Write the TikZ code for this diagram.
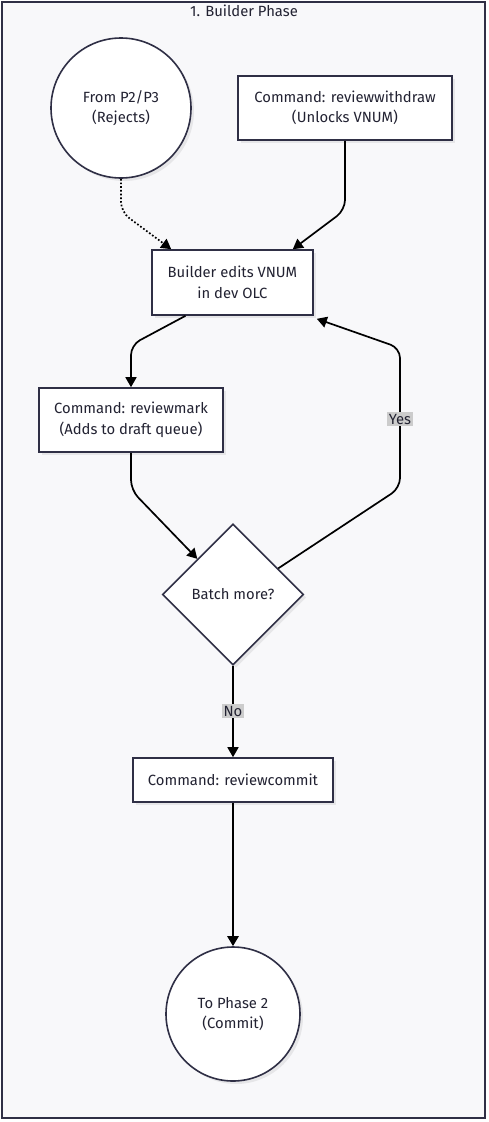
\documentclass[tikz,border=0pt]{standalone}
\usepackage{fontspec}
\setmainfont{Fira Sans}
\usetikzlibrary{arrows.meta,shapes.geometric,shadows,calc}
\definecolor{framefill}{HTML}{F8F8FA}
\definecolor{edgecol}{HTML}{2F2F45}
\definecolor{txt}{HTML}{222232}
\begin{document}
\begin{tikzpicture}[x=1pt,y=-1pt,
  every node/.style={font=\fontsize{14.8}{20.5}\selectfont, text=txt},
  shade/.style={drop shadow={shadow xshift=3pt,shadow yshift=-3pt,fill=black,opacity=0.07}},
  procbox/.style={draw=edgecol, line width=1.6pt, fill=white, shade, align=center, inner sep=0pt},
  termcirc/.style={circle, draw=edgecol, line width=1.6pt, fill=white, shade, align=center, inner sep=0pt},
  decis/.style={diamond, aspect=1, draw=edgecol, line width=1.6pt, fill=white, shade, inner sep=0pt, minimum width=141pt, minimum height=141pt},
  conn/.style={line width=1.7pt, draw=black, rounded corners=10pt, -{Triangle[length=10pt,width=11pt]}},
  elabel/.style={fill=black!20, inner sep=1.5pt, text=txt}
]
\useasboundingbox (0,0) rectangle (488,1122);
\draw[draw=edgecol, line width=1.6pt, fill=framefill] (2,2) rectangle (485,1118);
\node (title) at (244,11) {1. Builder Phase};

\node[termcirc, minimum size=140pt] (from) at (121,108) {From P2/P3\\(Rejects)};
\node[procbox, minimum width=214pt, minimum height=64pt] (withdraw) at (345,108) {Command: reviewwithdraw\\(Unlocks VNUM)};
\node[procbox, minimum width=161pt, minimum height=65pt] (builder) at (232.5,282.5) {Builder edits VNUM\\in dev OLC};
\node[procbox, minimum width=184pt, minimum height=64pt] (mark) at (131,420) {Command: reviewmark\\(Adds to draft queue)};
\node[decis] (batch) at (233,594.5) {Batch more?};
\node[procbox, minimum width=200pt, minimum height=44pt] (commit) at (233,780) {Command: reviewcommit};
\node[termcirc, minimum size=134pt] (to) at (233,1014) {To Phase 2\\(Commit)};

\draw[conn, dotted] (from.south) -- (121,212) -- ($(builder.north west)+(20,0)$);
\draw[conn] (withdraw.south) -- (345,210) -- ($(builder.north east)+(-21,0)$);
\draw[conn] ($(builder.south)+(-47,0)$) -- (131,345) -- (mark.north);
\draw[conn] (mark.south) -- (131,490) -- (batch.135);
\draw[conn] (batch.30) -- (400,488) -- (400,348) -- ($(builder.south east)+(3,3)$);
\node[elabel] (yeslbl) at (400,419) {Yes};
\draw[conn] (batch.south) -- (commit.north);
\node[elabel] (nolbl) at (233,711) {No};
\draw[conn, line width=2.8pt] (commit.south) -- (to.north);
\end{tikzpicture}
\end{document}
